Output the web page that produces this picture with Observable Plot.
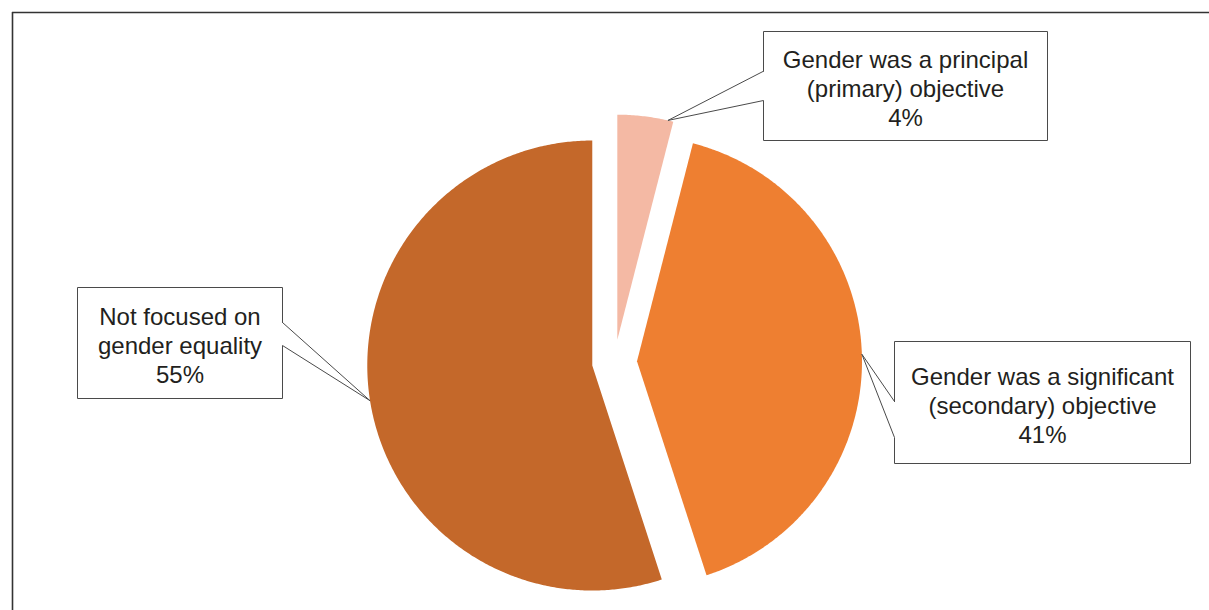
<!DOCTYPE html>
<html><head><meta charset="utf-8">
<script src="https://cdn.jsdelivr.net/npm/d3@7"></script>
<script src="https://cdn.jsdelivr.net/npm/@observablehq/plot@0.6"></script>
<style>body{margin:0;background:#fff}</style>
</head><body><div id="chart"></div>
<script>
// ---- data ----
const categories = ["Gender was a principal\n(primary) objective", "Gender was a significant\n(secondary) objective", "Not focused on\ngender equality"];
const shares = [4, 41, 55];
const sliceColors = ["#F4B9A4", "#EE7F31", "#C4682A"];

// ---- layout (pixels) ----
const W = 1209, H = 610;
const pieLayout = {cx: 614, cy: 361.5, r: 225, explode: 22.5};
const boxes = [
  {x1: 763, y1: 31, x2: 1047, y2: 140, side: "left", b1: 70.7, b2: 100, tipAngle: 13},
  {x1: 894, y1: 341, x2: 1190, y2: 463, side: "left", b1: 401, b2: 437, tipAngle: null},
  {x1: 77, y1: 287, x2: 282, y2: 398, side: "right", b1: 322, b2: 345, tipAngle: null}
];

const arcs = d3.pie().sort(null).startAngle(0).endAngle(2 * Math.PI)(shares);
const {cx, cy, r, explode} = pieLayout;

const slicePts = [];
const callPts = [];
const labels = [];
arcs.forEach((a, i) => {
  const mid = (a.startAngle + a.endAngle) / 2;
  const ox = cx + explode * Math.sin(mid), oy = cy - explode * Math.cos(mid);
  const name = categories[i];
  slicePts.push({name, x: ox, y: oy});
  const N = Math.max(8, Math.ceil((a.endAngle - a.startAngle) * 120));
  for (let k = 0; k <= N; k++) {
    const t = a.startAngle + (a.endAngle - a.startAngle) * k / N;
    slicePts.push({name, x: ox + r * Math.sin(t), y: oy - r * Math.cos(t)});
  }
  slicePts.push({name, x: ox, y: oy});

  const b = boxes[i];
  const ta = b.tipAngle == null ? mid : b.tipAngle * Math.PI / 180;
  const tip = {x: ox + r * Math.sin(ta), y: oy - r * Math.cos(ta)};
  const ex = b.side === "left" ? b.x1 : b.x2, fx = b.side === "left" ? b.x2 : b.x1;
  const path = [[ex, b.b1], [ex, b.y1], [fx, b.y1], [fx, b.y2], [ex, b.y2], [ex, b.b2], [tip.x, tip.y], [ex, b.b1]];
  path.forEach(([x, y]) => callPts.push({id: i, x, y}));
  labels.push({x: (b.x1 + b.x2) / 2, y: (b.y1 + b.y2) / 2, text: name + "\n" + shares[i] + "%"});
});

const chart = Plot.plot({
  width: W, height: H,
  marginTop: 12, marginLeft: 12, marginRight: 0, marginBottom: 0,
  x: {domain: [12, W], axis: null},
  y: {domain: [H, 12], axis: null},
  color: {domain: categories, range: sliceColors},
  style: {background: "#fff"},
  marks: [
    Plot.ruleY([12], {stroke: "#333", strokeWidth: 1.6}),
    Plot.ruleX([12], {stroke: "#333", strokeWidth: 1.6}),
    Plot.line(slicePts, {x: "x", y: "y", z: "name", fill: "name", stroke: "none", curve: "linear"}),
    Plot.line(callPts, {x: "x", y: "y", z: "id", fill: "white", stroke: "#4a4a4a", strokeWidth: 1, curve: "linear"}),
    Plot.text(labels, {x: "x", y: "y", text: "text", fontSize: 24, lineHeight: 1.2, dy: 2,
      fontFamily: "'Liberation Sans', Arial, Helvetica, sans-serif", fill: "#231f20", textAnchor: "middle", lineAnchor: "middle"})
  ]
});
document.getElementById("chart").appendChild(chart);
</script>
</body></html>
